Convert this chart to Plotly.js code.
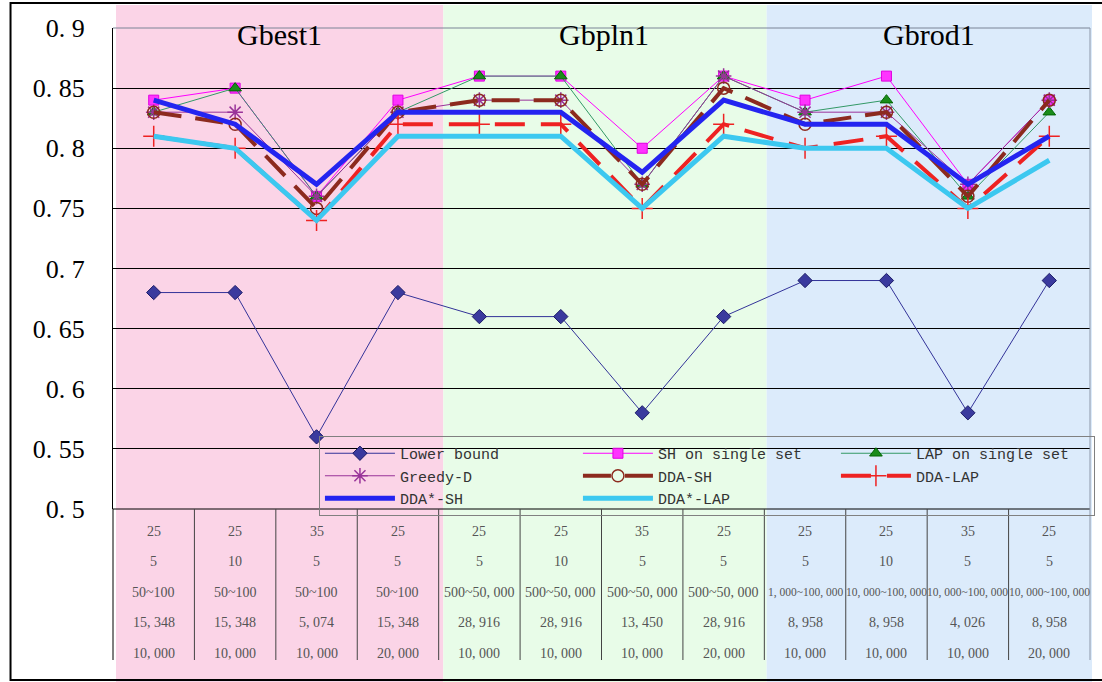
<!DOCTYPE html>
<html><head><meta charset="utf-8">
<script src="https://cdn.plot.ly/plotly-3.0.1.min.js"></script>
<style>html,body{margin:0;padding:0;background:#fff;}#chart{width:1102px;height:682px;}</style>
</head><body><div id="chart"></div>
<script>
// ---------- data ----------
const groups = ['Gbest1', 'Gbpln1', 'Gbrod1'];
const xIndex = [0, 1, 2, 3, 4, 5, 6, 7, 8, 9, 10, 11];
const row1 = ['25','25','35','25','25','25','35','25','25','25','35','25'];
const row2 = ['5','10','5','5','5','10','5','5','5','10','5','5'];
const row3 = ['50~100','50~100','50~100','50~100','500~50, 000','500~50, 000','500~50, 000','500~50, 000',
              '1, 000~100, 000','10, 000~100, 000','10, 000~100, 000','10, 000~100, 000'];
const row4 = ['15, 348','15, 348','5, 074','15, 348','28, 916','28, 916','13, 450','28, 916','8, 958','8, 958','4, 026','8, 958'];
const row5 = ['10, 000','10, 000','10, 000','20, 000','10, 000','10, 000','10, 000','20, 000','10, 000','10, 000','10, 000','20, 000'];

const seriesNames = ['Lower bound','SH on single set','LAP on single set','Greedy-D','DDA-SH','DDA-LAP','DDA*-SH','DDA*-LAP'];
const lowerBound = [0.68,0.68,0.56,0.68,0.66,0.66,0.58,0.66,0.69,0.69,0.58,0.69];
const shSingle   = [0.84,0.85,0.76,0.84,0.86,0.86,0.80,0.86,0.84,0.86,0.77,0.84];
const lapSingle  = [0.83,0.85,0.76,0.83,0.86,0.86,0.77,0.86,0.83,0.84,0.76,0.83];
const greedyD    = [0.83,0.83,0.76,0.83,0.84,0.84,0.77,0.86,0.83,0.83,0.77,0.84];
const ddaSH      = [0.83,0.82,0.75,0.83,0.84,0.84,0.77,0.85,0.82,0.83,0.76,0.84];
const ddaLAP     = [0.81,0.80,0.74,0.82,0.82,0.82,0.75,0.82,0.80,0.81,0.75,0.81];
const ddaStarSH  = [0.84,0.82,0.77,0.83,0.83,0.83,0.78,0.84,0.82,0.82,0.77,0.81];
const ddaStarLAP = [0.81,0.80,0.74,0.81,0.81,0.81,0.75,0.81,0.80,0.80,0.75,0.79];

const yTickVals = [0.5,0.55,0.6,0.65,0.7,0.75,0.8,0.85,0.9];
const yTickText = ['0. 5','0. 55','0. 6','0. 65','0. 7','0. 75','0. 8','0. 85','0. 9'];

// ---------- geometry helpers (pixel -> paper) ----------
const W = 1102, H = 682, ML = 113, MR = 7, MT = 28, MB = 173;
const PW = W - ML - MR, PH = H - MT - MB;
const px = v => (v - ML) / PW;
const py = v => (H - MB - v) / PH;

// ---------- traces ----------
const traces = [
  {name: seriesNames[0], y: lowerBound, mode: 'lines+markers',
   line: {color: '#333399', width: 1},
   marker: {symbol: 'diamond', size: 11, color: '#3a3a9e', line: {color: '#1a1a66', width: 1}}},
  {name: seriesNames[1], y: shSingle, mode: 'lines+markers',
   line: {color: '#ff00ff', width: 1},
   marker: {symbol: 'square', size: 10, color: '#ff33ff', line: {color: '#e000e0', width: 1}}},
  {name: seriesNames[2], y: lapSingle, mode: 'lines+markers',
   line: {color: '#339966', width: 1},
   marker: {symbol: 'triangle-up', size: 11, color: '#1a8c1a', line: {color: '#006600', width: 1}}},
  {name: seriesNames[3], y: greedyD, mode: 'lines+markers',
   line: {color: '#993399', width: 1},
   marker: {symbol: 'asterisk-open', size: 13, color: '#993399', line: {color: '#993399', width: 1.5}}},
  {name: seriesNames[4], y: ddaSH, mode: 'lines+markers',
   line: {color: '#8c2a1e', width: 4, dash: '28px,14px'},
   marker: {symbol: 'circle-open', size: 12, color: '#8c2a1e', line: {color: '#8c2a1e', width: 1.5}}},
  {name: seriesNames[5], y: ddaLAP, mode: 'lines+markers',
   line: {color: '#ee2222', width: 4, dash: '30px,16px'},
   marker: {symbol: 'cross-thin-open', size: 15, color: '#ee2222', line: {color: '#ee2222', width: 1.5}}},
  {name: seriesNames[6], y: ddaStarSH, mode: 'lines',
   line: {color: '#2424f0', width: 5}},
  {name: seriesNames[7], y: ddaStarLAP, mode: 'lines',
   line: {color: '#3cc8f0', width: 5}}
].map(t => Object.assign({x: xIndex, type: 'scatter', hoverinfo: 'skip'}, t));

// ---------- shapes ----------
const shapes = [];
const bandColors = ['#fbd4e7', '#e8fce8', '#dcebfb'];
const bandEdges = [116, 445, 770, 1097];
for (let i = 0; i < 3; i++) {
  shapes.push({type: 'rect', xref: 'paper', yref: 'paper', layer: 'below',
    x0: px(bandEdges[i]), x1: px(bandEdges[i + 1]), y0: py(682), y1: py(5),
    fillcolor: bandColors[i], line: {width: 0}});
}
shapes.push({type: 'line', xref: 'paper', yref: 'paper', x0: 0, x1: 1, y0: 1, y1: 1,
  line: {color: '#7a8496', width: 1}});
shapes.push({type: 'line', xref: 'paper', yref: 'paper', x0: 0, x1: 1, y0: 0, y1: 0,
  line: {color: '#000', width: 1}});
shapes.push({type: 'line', xref: 'paper', yref: 'paper', x0: 1, x1: 1, y0: 1, y1: py(660),
  line: {color: '#8c96a8', width: 1}});
for (let k = 0; k < 12; k++) {
  shapes.push({type: 'line', xref: 'paper', yref: 'paper', x0: k / 12, x1: k / 12, y0: 0, y1: py(660),
    line: {color: k === 0 ? '#000' : '#444', width: 1}});
}
shapes.push({type: 'rect', xref: 'paper', yref: 'paper', x0: px(10), x1: px(1110), y0: py(680), y1: py(3),
  line: {color: '#000', width: 2}, fillcolor: 'rgba(0,0,0,0)'});

// ---------- annotations ----------
const annotations = [];
const titleX = [280, 607, 933];
groups.forEach((g, i) => annotations.push({
  text: g, xref: 'paper', yref: 'paper', x: px(titleX[i]), y: py(34),
  xanchor: 'center', yanchor: 'middle', showarrow: false,
  font: {family: 'Liberation Serif, Times New Roman, serif', size: 30, color: '#000'}}));
const rows = [row1, row2, row3, row4, row5];
const rowY = [531, 561, 592, 622, 653];
rows.forEach((r, ri) => r.forEach((txt, ci) => annotations.push({
  text: txt, xref: 'x', yref: 'paper', x: xIndex[ci], y: py(rowY[ri]),
  xanchor: 'center', yanchor: 'middle', showarrow: false,
  font: {family: 'Liberation Serif, Times New Roman, serif',
         size: txt.length > 12 ? 11.5 : 14, color: '#555'}})));

const layout = {
  width: W, height: H,
  margin: {l: ML, r: MR, t: MT, b: MB, pad: 0},
  paper_bgcolor: '#ffffff', plot_bgcolor: 'rgba(0,0,0,0)',
  showlegend: true,
  legend: {
    orientation: 'h', x: px(320), y: py(436), xanchor: 'left', yanchor: 'top',
    entrywidth: 173, entrywidthmode: 'pixels', itemwidth: 70,
    font: {family: 'Liberation Mono, DejaVu Sans Mono, monospace', size: 15, color: '#333'},
    bgcolor: 'rgba(0,0,0,0)', bordercolor: '#808080', borderwidth: 1,
    traceorder: 'normal', tracegroupgap: 0
  },
  xaxis: {range: [-0.5, 11.5], showticklabels: false, showgrid: false, zeroline: false,
    showline: false, ticks: '', fixedrange: true},
  yaxis: {range: [0.5, 0.9], tickvals: yTickVals, ticktext: yTickText,
    tickfont: {family: 'Liberation Serif, Times New Roman, serif', size: 26, color: '#000'},
    ticklabelstandoff: 22, showline: true, linecolor: '#000', linewidth: 1,
    showgrid: true, gridcolor: '#000', gridwidth: 1, zeroline: false, ticks: '', fixedrange: true},
  shapes: shapes,
  annotations: annotations
};

Plotly.newPlot('chart', traces, layout, {displayModeBar: false, staticPlot: true});
</script>
</body></html>
